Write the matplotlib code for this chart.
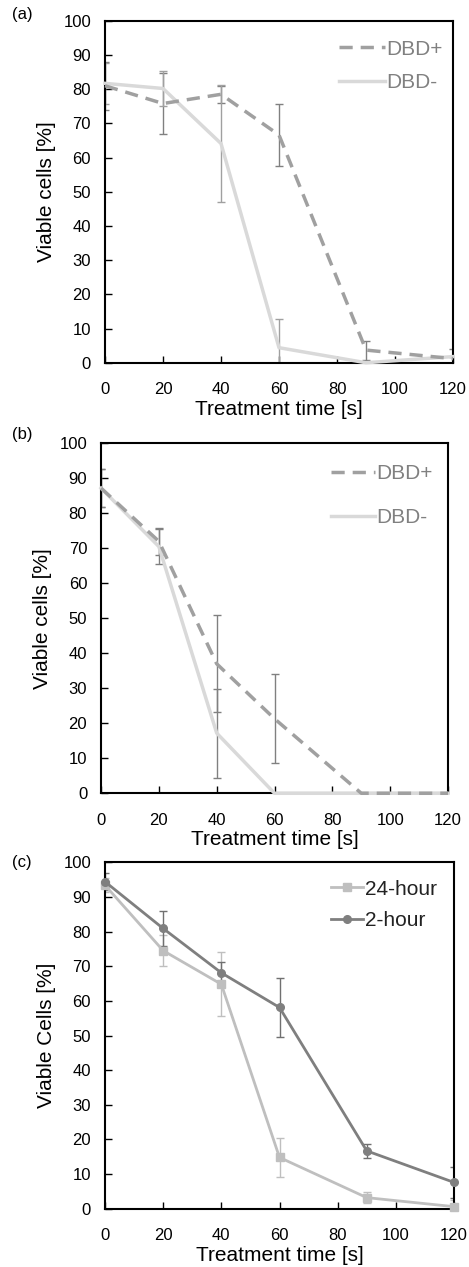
import matplotlib.pyplot as plt
import numpy as np

plt.rcParams['font.family'] = ['Liberation Sans', 'DejaVu Sans']

t = [0, 20, 40, 60, 90, 120]

# panel (a)
a_plus = [81, 75.8, 78.5, 66.6, 3.7, 1.2]
a_plus_err = [7, 9, 2.5, 9.2, 2.8, 2.7]
a_minus = [81.7, 80.2, 64.1, 4.4, 0, 1.8]
a_minus_err = [6, 5, 17, 8.3, 0, 0]

# panel (b)
b_plus = [87.2, 72, 37, 21.3, 0, 0]
b_plus_err = [5.5, 3.8, 13.9, 12.7, 0, 0]
b_minus = [87.2, 70.5, 17.2, 0, 0, 0]
b_minus_err = [5.5, 5, 12.7, 0, 0, 0]

# panel (c)
c_24 = [93.4, 74.5, 64.8, 14.8, 3.2, 0.6]
c_24_err = [2, 4.4, 9.2, 5.6, 1.6, 2]
c_2 = [94.4, 80.9, 68.1, 58.1, 16.7, 7.6]
c_2_err = [2.4, 5, 3, 8.6, 2, 4.5]

xticks = [0, 20, 40, 60, 80, 100, 120]
yticks = list(range(0, 101, 10))

fig = plt.figure(figsize=(4.69, 12.67), dpi=100)
axa = fig.add_axes([0.2239, 0.7137, 0.742, 0.2699])
axb = fig.add_axes([0.2154, 0.3739, 0.7399, 0.2762])
axc = fig.add_axes([0.2239, 0.0460, 0.7441, 0.2734])


def style(ax, ylabel):
    ax.set_xlim(0, 120)
    ax.set_ylim(0, 100)
    ax.set_xticks(xticks)
    ax.set_yticks(yticks)
    ax.tick_params(direction='in', length=5, width=1, labelsize=12, colors='black')
    ax.tick_params(axis='y', pad=10)
    ax.tick_params(axis='x', pad=14)
    for s in ax.spines.values():
        s.set_linewidth(1.5)
    ax.set_xlabel('Treatment time [s]', fontsize=15, labelpad=2)
    ax.set_ylabel(ylabel, fontsize=15, labelpad=5)


def eb(ax, y, e, color='#808080'):
    ax.errorbar(t, y, yerr=e, fmt='none', ecolor=color, elinewidth=1,
                capsize=3, capthick=1, zorder=2)


# (a)
eb(axa, a_plus, a_plus_err)
eb(axa, a_minus, a_minus_err, '#a0a0a0')
axa.plot(t, a_plus, color='#a0a0a0', lw=2.5, ls=(0, (3.8, 2.3)), label='DBD+',
         zorder=4, clip_on=False)
axa.plot(t, a_minus, color='#d9d9d9', lw=2.5, label='DBD-', zorder=3, clip_on=False)
style(axa, 'Viable cells [%]')
axa.legend(loc='upper right', frameon=False, fontsize=15, labelcolor='#808080',
           handlelength=2.2, handletextpad=0.05, labelspacing=0.7,
           borderaxespad=0.1, bbox_to_anchor=(1.0, 0.975))

# (b)
eb(axb, b_plus, b_plus_err)
eb(axb, b_minus, b_minus_err)
axb.plot(t, b_plus, color='#a0a0a0', lw=2.5, ls=(0, (3.8, 2.3)), label='DBD+',
         zorder=4, clip_on=False)
axb.plot(t, b_minus, color='#d9d9d9', lw=2.5, label='DBD-', zorder=3, clip_on=False)
style(axb, 'Viable cells [%]')
axb.legend(loc='upper right', frameon=False, fontsize=15, labelcolor='#808080',
           handlelength=2.1, handletextpad=0.05, labelspacing=1.2,
           borderaxespad=0.1, bbox_to_anchor=(0.985, 0.97))

# (c)
eb(axc, c_24, c_24_err, '#bfbfbf')
eb(axc, c_2, c_2_err, '#707070')
axc.plot(t, c_24, color='#bfbfbf', lw=2, marker='s', ms=5.5, label='24-hour',
         zorder=3, clip_on=False)
axc.plot(t, c_2, color='#7f7f7f', lw=2, marker='o', ms=5.5, label='2-hour',
         zorder=4, clip_on=False)
style(axc, 'Viable Cells [%]')
axc.legend(loc='upper right', frameon=False, fontsize=15, labelcolor='#222222',
           handlelength=1.5, handletextpad=0.1, labelspacing=0.6,
           borderaxespad=0.1, bbox_to_anchor=(0.98, 0.98))

fig.text(0.026, 1 - 14 / 1267, '(a)', fontsize=12, va='center')
fig.text(0.026, 1 - 434 / 1267, '(b)', fontsize=12, va='center')
fig.text(0.026, 1 - 862 / 1267, '(c)', fontsize=12, va='center')

fig.savefig('out.png', dpi=100)
